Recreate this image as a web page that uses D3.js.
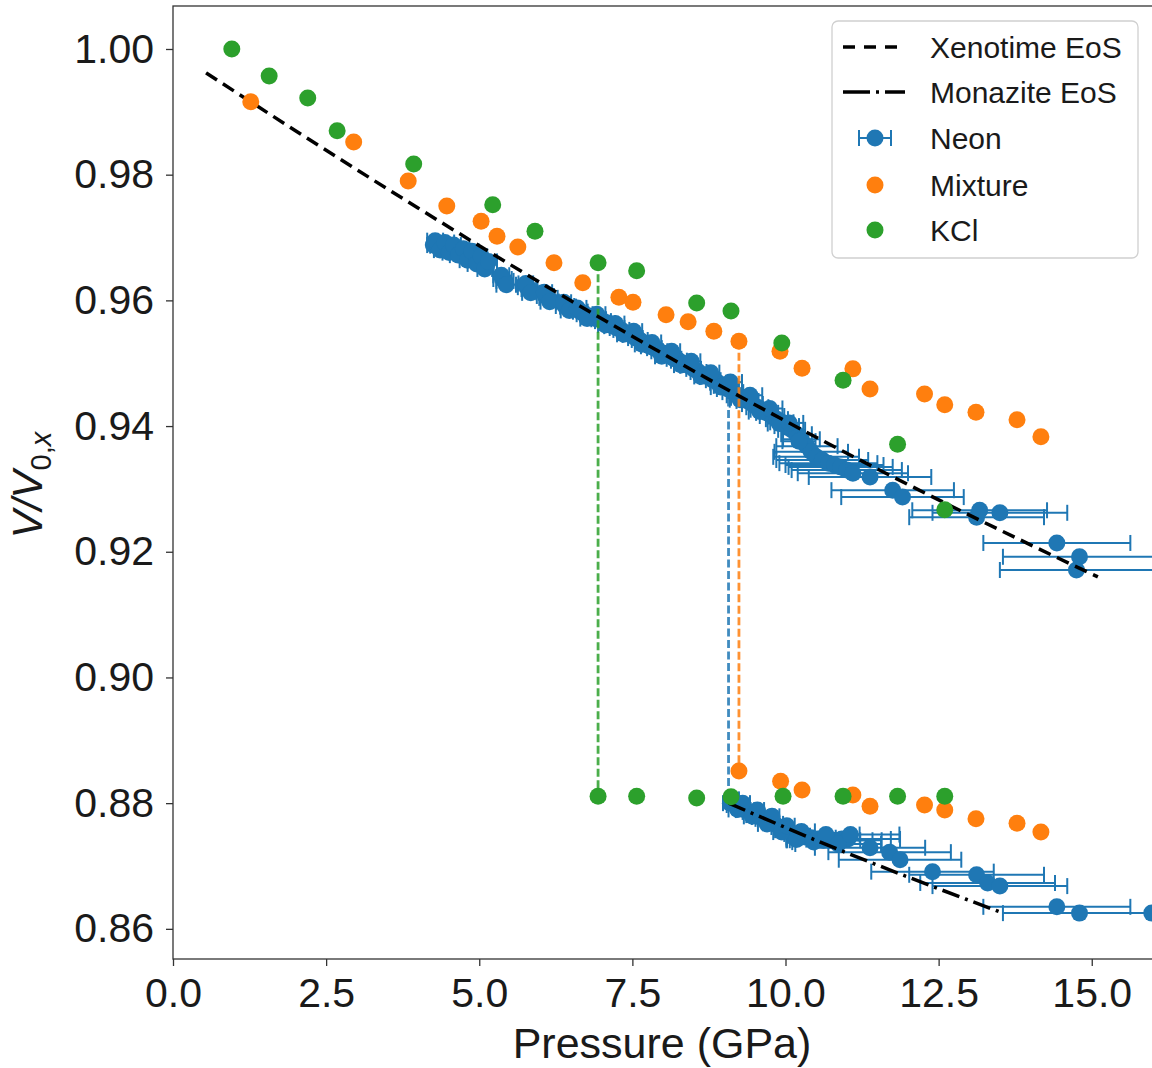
<!DOCTYPE html>
<html>
<head>
<meta charset="utf-8">
<script src="https://cdn.jsdelivr.net/npm/d3@7"></script>
<style>
body { margin: 0; background: #fff; }
text { font-family: "Liberation Sans", Arial, sans-serif; fill: #1a1a1a; }
</style>
</head>
<body>
<script>
// ---- data ----
var xenoP = [0.54, 2, 4, 6, 8, 10, 12, 14, 15.1];
var xenoV = [0.9962, 0.9870, 0.9747, 0.9628, 0.9515, 0.9408, 0.9307, 0.9211, 0.9160];

var monaP = [9.07, 10.67, 13.55];
var monaV = [0.8800, 0.8734, 0.8625];

// Neon, xenotime phase
var neonP1 = [4.25,4.32,4.40,4.47,4.55,4.62,4.70,4.78,4.85,4.92,5.00,5.06,5.12,5.38,5.42,5.78,5.82,6.08,6.13,6.40,6.45,
  6.65,6.72,6.80,6.88,6.95,7.02,7.10,7.18,7.25,7.32,7.40,7.48,7.55,7.62,7.70,7.78,7.86,7.94,8.02,8.10,8.18,8.26,8.34,
  8.42,8.50,8.58,8.66,8.74,8.82,8.90,8.98,9.06,9.14,9.22,9.30,9.38,9.46,9.54,9.62,9.70,9.78,9.86,9.94,10.02,10.10,
  10.18,10.26,10.35,10.42,10.50,10.60,10.70,10.80,10.90,11.00,11.10,11.38,11.75,11.91,13.12,13.17,13.50,14.43,14.80,14.75,
  4.28,4.36,4.44,4.51,4.58,4.66,4.74,4.81,4.88,4.96,5.03,5.09,5.15,5.36,5.44,5.76,5.84,6.06,6.15,6.38,6.47,
  6.60,6.76,6.92,7.06,7.22,7.36,7.52,7.66,7.82,7.98,8.14,8.30,8.46,8.62,8.78,8.94,9.10,9.26,9.42,9.58,9.74,9.90,10.06,10.22];
var neonV1 = [.9688,.9687,.9685,.9683,.9680,.9679,.9675,.9672,.9671,.9666,.9663,.9660,.9656,.9634,.9631,.9621,.9618,.9607,.9604,.9591,.9590,
  .9582,.9578,.9575,.9572,.9570,.9567,.9564,.9559,.9556,.9553,.9548,.9545,.9540,.9537,.9532,.9527,.9524,.9519,.9516,.9512,.9507,.9504,.9499,
  .9496,.9491,.9486,.9481,.9478,.9473,.9469,.9464,.9459,.9454,.9449,.9445,.9440,.9435,.9430,.9426,.9421,.9416,.9411,.9406,.9400,.9394,
  .9387,.9379,.9368,.9359,.9351,.9346,.9341,.9338,.9335,.9330,.9325,.9319,.9298,.9287,.9255,.9266,.9262,.9214,.9192,.9171,
  .9695,.9680,.9692,.9676,.9688,.9672,.9682,.9664,.9678,.9658,.9670,.9650,.9662,.9640,.9625,.9627,.9612,.9613,.9598,.9597,.9584,
  .9588,.9571,.9578,.9561,.9563,.9546,.9551,.9530,.9533,.9511,.9519,.9497,.9503,.9479,.9485,.9462,.9470,.9442,.9449,.9423,.9428,.9404,.9405,.9376];
var neonE1 = [.10,.12,.09,.14,.11,.13,.10,.12,.15,.10,.12,.09,.11,.15,.14,.15,.13,.14,.15,.15,.13,
  .12,.13,.12,.14,.12,.13,.12,.14,.12,.13,.12,.14,.12,.13,.12,.14,.12,.13,.12,.14,.12,.13,.12,
  .14,.12,.13,.12,.14,.12,.13,.15,.18,.17,.18,.19,.18,.17,.18,.19,.18,.20,.18,.19,.20,.22,
  .25,.30,.50,.60,.70,.75,.80,.80,.85,.90,.90,1.0,1.0,1.0,1.1,1.1,1.1,1.2,1.25,1.25,
  .13,.10,.15,.11,.12,.14,.10,.13,.11,.15,.10,.12,.14,.13,.16,.12,.14,.13,.15,.12,.14,
  .15,.11,.14,.12,.15,.11,.14,.12,.15,.11,.14,.12,.15,.11,.14,.16,.19,.17,.20,.18,.21,.19,.23,.27];

// Neon, monazite phase
var neonP2 = [9.10,9.18,9.26,9.34,9.42,9.50,9.58,9.66,9.74,9.82,9.90,9.98,10.06,10.14,10.22,10.32,10.42,10.52,10.62,10.72,
  10.82,10.92,11.02,11.38,11.70,11.87,12.40,13.12,13.30,13.50,14.43,14.80,15.98,
  9.14,9.22,9.30,9.46,9.54,9.70,9.78,9.94,10.02,10.18,10.26,10.46,10.66,10.86,11.06];
var neonV2 = [.8800,.8797,.8794,.8789,.8786,.8781,.8778,.8775,.8772,.8767,.8762,.8757,.8754,.8751,.8748,.8746,.8745,.8743,.8741,.8741,
  .8741,.8743,.8743,.8729,.8722,.8710,.8691,.8686,.8673,.8668,.8635,.8625,.8625,
  .8806,.8790,.8800,.8779,.8789,.8767,.8779,.8754,.8764,.8742,.8755,.8738,.8750,.8735,.8750];
var neonE2 = [.12,.14,.13,.15,.12,.14,.13,.15,.12,.14,.13,.15,.14,.16,.18,.30,.40,.50,.60,.70,
  .75,.80,.85,.90,1.0,1.0,1.0,1.1,1.1,1.1,1.2,1.25,1.2,
  .10,.15,.12,.14,.11,.15,.12,.14,.13,.16,.22,.35,.55,.70,.80];

var mixP = [1.27,2.95,3.84,4.47,5.03,5.29,5.63,6.22,6.69,7.28,7.51,8.05,8.41,8.83,9.24,9.91,10.27,11.10,11.38,12.27,12.60,13.11,13.78,14.17,
  9.24,9.92,10.27,11.10,11.38,12.27,12.60,13.11,13.78,14.17];
var mixV = [.9916,.9852,.9790,.9750,.9726,.9702,.9685,.9660,.9628,.9605,.9597,.9577,.9566,.9551,.9535,.9519,.9492,.9491,.9459,.9451,.9434,.9422,.9410,.9383,
  .8851,.8835,.8821,.8813,.8795,.8797,.8789,.8775,.8768,.8754];

var kclP = [0.96,1.57,2.20,2.68,3.93,5.22,5.91,6.94,7.57,8.55,9.11,9.94,10.94,11.83,12.60,
  6.94,7.57,8.55,9.11,9.96,10.94,11.83,12.60];
var kclV = [1.000,.9957,.9922,.9870,.9817,.9752,.9710,.9660,.9647,.9596,.9583,.9532,.9473,.9371,.9267,
  .8811,.8811,.8808,.8810,.8811,.8811,.8811,.8811];

// transitions (pressure, V before, V after)
var transNames = ["KCl", "Neon", "Mixture"];
var transP = [6.94, 9.07, 9.24];
var transTop = [0.9660, 0.9462, 0.9535];
var transBot = [0.8811, 0.8800, 0.8851];

var xTicks = [0, 2.5, 5, 7.5, 10, 12.5, 15];
var yTicks = [0.86, 0.88, 0.90, 0.92, 0.94, 0.96, 0.98, 1.00];

var blue = "#1f77b4", orange = "#ff7f0e", green = "#2ca02c";
var colors = { KCl: green, Neon: blue, Mixture: orange };

var width = 1152, height = 1068;
var svg = d3.select("body").append("svg").attr("width", width).attr("height", height);

var x = d3.scaleLinear().domain([0, 16]).range([173, 1153]);
var y = d3.scaleLinear().domain([0.8552, 1.00684]).range([959, 6]);

// axes
var yAxis = svg.append("g").attr("transform", "translate(173,0)")
  .call(d3.axisLeft(y).tickValues(yTicks).tickFormat(d3.format(".2f")).tickSize(7).tickPadding(12).tickSizeOuter(0));
var xAxis = svg.append("g").attr("transform", "translate(0,959)")
  .call(d3.axisBottom(x).tickValues(xTicks).tickFormat(d3.format(".1f")).tickSize(7).tickPadding(12).tickSizeOuter(0));
[xAxis, yAxis].forEach(function(a) {
  a.select(".domain").remove();
  a.selectAll(".tick line").attr("stroke", "#333").attr("stroke-width", 1.3);
  a.selectAll(".tick text").style("font-size", "41px").attr("fill", "#1a1a1a");
});

var plot = svg.append("g");

// Neon error bars
function neonPts(P, V, E) {
  return P.map(function(p, i) { return { p: p, v: V[i], e: E[i] }; });
}
var neon = neonPts(neonP1, neonV1, neonE1).concat(neonPts(neonP2, neonV2, neonE2));

plot.append("g").selectAll("line").data(neon).enter().append("line")
  .attr("x1", function(d) { return x(d.p - d.e); })
  .attr("x2", function(d) { return x(d.p + d.e); })
  .attr("y1", function(d) { return y(d.v); })
  .attr("y2", function(d) { return y(d.v); })
  .attr("stroke", blue).attr("stroke-width", 2);
var caps = [];
neon.forEach(function(d) { caps.push({ p: d.p - d.e, v: d.v }); caps.push({ p: d.p + d.e, v: d.v }); });
plot.append("g").selectAll("line").data(caps).enter().append("line")
  .attr("x1", function(d) { return x(d.p); })
  .attr("x2", function(d) { return x(d.p); })
  .attr("y1", function(d) { return y(d.v) - 8; })
  .attr("y2", function(d) { return y(d.v) + 8; })
  .attr("stroke", blue).attr("stroke-width", 2);
plot.append("g").selectAll("circle").data(neon).enter().append("circle")
  .attr("cx", function(d) { return x(d.p); })
  .attr("cy", function(d) { return y(d.v); })
  .attr("r", 8.5).attr("fill", blue);

// transition dashed lines
plot.append("g").selectAll("line").data(transNames).enter().append("line")
  .attr("x1", function(d, i) { return x(transP[i]); })
  .attr("x2", function(d, i) { return x(transP[i]); })
  .attr("y1", function(d, i) { return y(transTop[i]); })
  .attr("y2", function(d, i) { return y(transBot[i]); })
  .attr("stroke", function(d) { return colors[d]; })
  .attr("stroke-opacity", 0.85)
  .attr("stroke-width", 2.8)
  .attr("stroke-dasharray", "8,3.5");

// EoS curves
var line = d3.line().x(function(d) { return x(d[0]); }).y(function(d) { return y(d[1]); }).curve(d3.curveMonotoneX);
plot.append("path").datum(xenoP.map(function(p, i) { return [p, xenoV[i]]; }))
  .attr("d", line).attr("fill", "none").attr("stroke", "#000").attr("stroke-width", 3.5)
  .attr("stroke-dasharray", "13,7");
plot.append("path").datum(monaP.map(function(p, i) { return [p, monaV[i]]; }))
  .attr("d", line).attr("fill", "none").attr("stroke", "#000").attr("stroke-width", 3.5)
  .attr("stroke-dasharray", "18,6,3,6");

// scatter
plot.append("g").selectAll("circle").data(mixP).enter().append("circle")
  .attr("cx", function(d) { return x(d); })
  .attr("cy", function(d, i) { return y(mixV[i]); })
  .attr("r", 8.5).attr("fill", orange);
plot.append("g").selectAll("circle").data(kclP).enter().append("circle")
  .attr("cx", function(d) { return x(d); })
  .attr("cy", function(d, i) { return y(kclV[i]); })
  .attr("r", 8.5).attr("fill", green);

// frame
svg.append("rect").attr("x", 173).attr("y", 6).attr("width", 980).attr("height", 953)
  .attr("fill", "none").attr("stroke", "#333").attr("stroke-width", 1.3);

// axis titles
svg.append("text").attr("x", 662).attr("y", 1058).attr("text-anchor", "middle")
  .style("font-size", "43px").text("Pressure (GPa)");
var yl = svg.append("text").attr("transform", "translate(42,485) rotate(-90)")
  .attr("text-anchor", "middle").style("font-size", "42px").style("font-style", "italic");
yl.append("tspan").text("V/V");
yl.append("tspan").attr("dy", 9).style("font-size", "29px").style("font-style", "normal").text("0,");
yl.append("tspan").style("font-size", "29px").text("x");

// legend
var lg = svg.append("g");
lg.append("rect").attr("x", 832).attr("y", 21).attr("width", 306).attr("height", 237).attr("rx", 6)
  .attr("fill", "#fff").attr("fill-opacity", 0.8).attr("stroke", "#d0d0d0").attr("stroke-width", 1.3);
var legNames = ["Xenotime EoS", "Monazite EoS", "Neon", "Mixture", "KCl"];
var legY = [47, 92, 138, 185, 230];
lg.append("line").attr("x1", 843).attr("x2", 905).attr("y1", legY[0]).attr("y2", legY[0])
  .attr("stroke", "#000").attr("stroke-width", 3.5).attr("stroke-dasharray", "12,9");
lg.append("line").attr("x1", 843).attr("x2", 905).attr("y1", legY[1]).attr("y2", legY[1])
  .attr("stroke", "#000").attr("stroke-width", 3.5).attr("stroke-dasharray", "27,6,3,6");
lg.append("line").attr("x1", 859).attr("x2", 891).attr("y1", legY[2]).attr("y2", legY[2])
  .attr("stroke", blue).attr("stroke-width", 2);
[859, 891].forEach(function(cx) {
  lg.append("line").attr("x1", cx).attr("x2", cx).attr("y1", legY[2] - 8).attr("y2", legY[2] + 8)
    .attr("stroke", blue).attr("stroke-width", 2);
});
lg.append("circle").attr("cx", 875).attr("cy", legY[2]).attr("r", 8.5).attr("fill", blue);
lg.append("circle").attr("cx", 875).attr("cy", legY[3]).attr("r", 8.5).attr("fill", orange);
lg.append("circle").attr("cx", 875).attr("cy", legY[4]).attr("r", 8.5).attr("fill", green);
lg.selectAll("text").data(legNames).enter().append("text")
  .attr("x", 930).attr("y", function(d, i) { return legY[i] + 10.5; })
  .style("font-size", "30px").text(function(d) { return d; });
</script>
</body>
</html>
